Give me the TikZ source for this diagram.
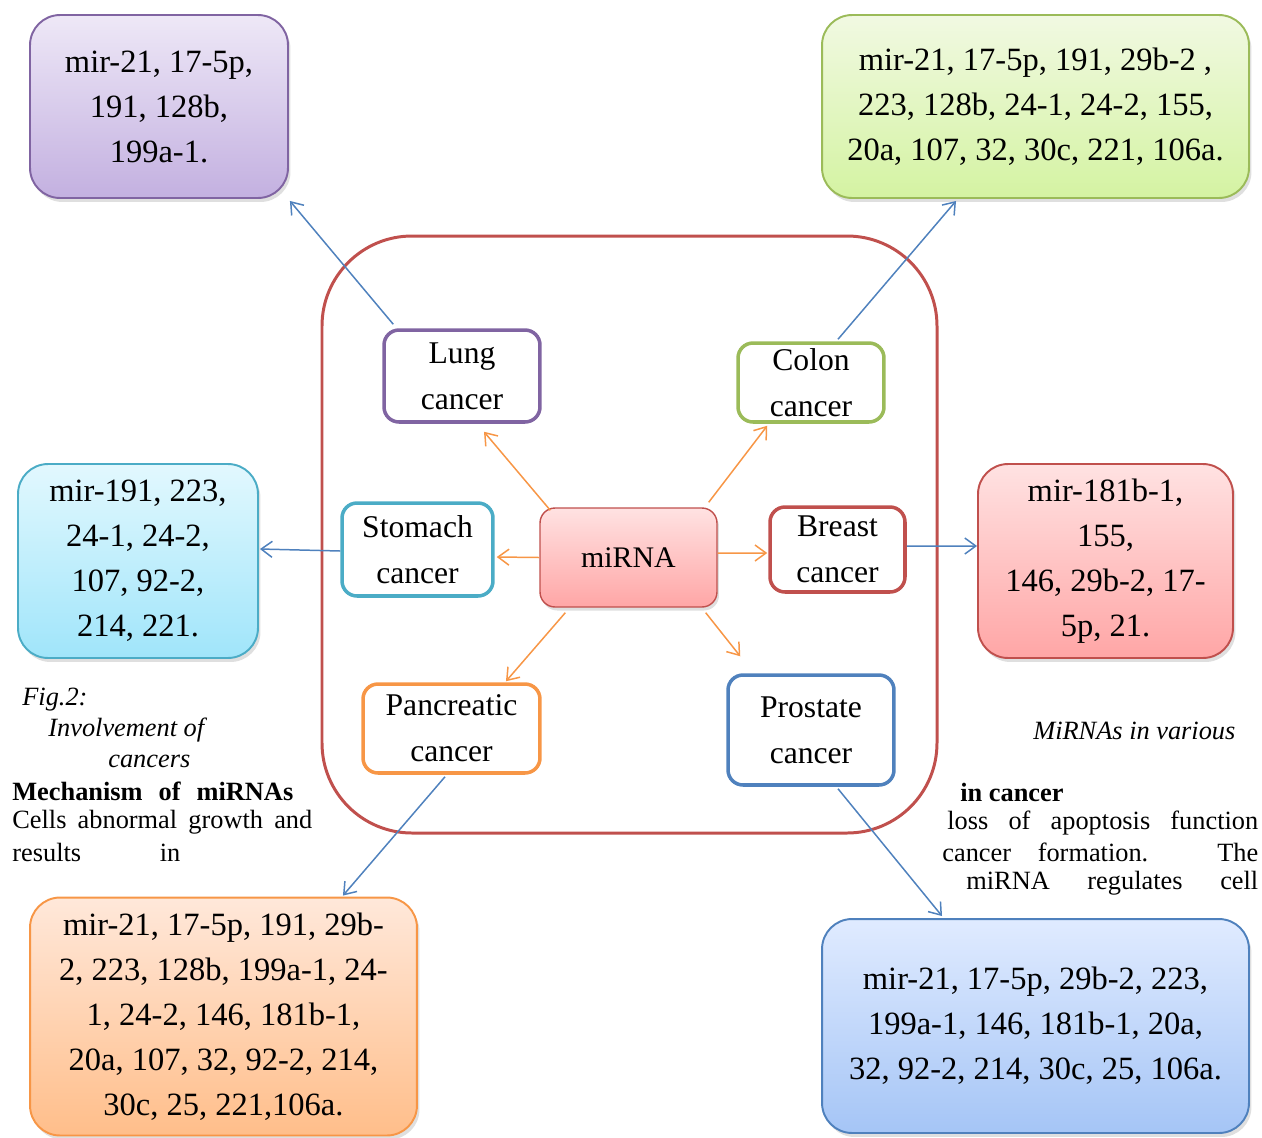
\documentclass[tikz,border=0pt]{standalone}
\usepackage{fontspec}
\setmainfont{Liberation Serif}
\usetikzlibrary{arrows.meta,shadows}

\definecolor{lungc}{HTML}{8064A2}
\definecolor{lungtop}{HTML}{EEE8F7}
\definecolor{lungbot}{HTML}{C3B0E0}
\definecolor{colonc}{HTML}{9BBB59}
\definecolor{colontop}{HTML}{F1F9E2}
\definecolor{colonbot}{HTML}{D4F3A2}
\definecolor{stomc}{HTML}{4BACC6}
\definecolor{stomtop}{HTML}{E2F8FE}
\definecolor{stombot}{HTML}{A0E5FA}
\definecolor{breastc}{HTML}{C0504D}
\definecolor{breasttop}{HTML}{FFE2E2}
\definecolor{breastbot}{HTML}{FFA6A6}
\definecolor{pancc}{HTML}{F79646}
\definecolor{panctop}{HTML}{FFE8DA}
\definecolor{pancbot}{HTML}{FFBE8A}
\definecolor{prostc}{HTML}{4F81BD}
\definecolor{prosttop}{HTML}{E0EBFF}
\definecolor{prostbot}{HTML}{A5C5F6}

\begin{document}
\begin{tikzpicture}[x=0.02cm, y=-0.02cm,
  mirbox/.style={draw, line width=1.1pt, rounded corners=0.6cm, inner sep=0pt, align=center,
    font=\fontsize{18.5}{25.6}\selectfont,
    drop shadow={opacity=0.25, shadow xshift=0.05cm, shadow yshift=-0.08cm}},
  cancerbox/.style={draw, fill=white, line width=2pt, rounded corners=0.3cm, inner sep=0pt,
    align=center, font=\fontsize{18}{26}\selectfont},
  mirnabox/.style={draw=breastc, line width=0.8pt, rounded corners=0.3cm, inner sep=0pt,
    top color=breasttop, bottom color=breastbot, font=\fontsize{17}{20}\selectfont,
    drop shadow={opacity=0.25, shadow xshift=0.04cm, shadow yshift=-0.07cm}},
  inarrow/.style={draw=pancc, line width=0.85pt, -{Straight Barb[length=0.22cm,width=0.32cm]}},
  outarrow/.style={draw=prostc, line width=0.85pt, -{Straight Barb[length=0.22cm,width=0.32cm]}},
  caption/.style={anchor=west, inner sep=0pt, font=\fontsize{15}{18}\selectfont},
  capit/.style={caption, font=\fontsize{15}{18}\selectfont\itshape},
  capbf/.style={caption, font=\fontsize{15}{18}\selectfont\bfseries}]
  \useasboundingbox (0,0) rectangle (1262,1137);

  % frame round the cancers
  \draw[draw=breastc, line width=1.7pt, rounded corners=1.8cm] (322,236) rectangle (937,833);

  % miRNA lists
  \node[mirbox, draw=lungc, top color=lungtop, bottom color=lungbot,
    minimum width=5.16cm, minimum height=3.66cm] (lungmir) at (159,106.5)
    {mir-21, 17-5p,\\ 191, 128b,\\ 199a-1.};
  \node[mirbox, draw=colonc, top color=colontop, bottom color=colonbot,
    minimum width=8.54cm, minimum height=3.66cm] (colonmir) at (1035.5,106.5)
    {mir-21, 17-5p, 191, 29b-2 ,\\ 223, 128b, 24-1, 24-2, 155,\\ 20a, 107, 32, 30c, 221, 106a.};
  \node[mirbox, draw=stomc, top color=stomtop, bottom color=stombot,
    minimum width=4.8cm, minimum height=3.88cm] (stomachmir) at (138,561)
    {mir-191, 223,\\ 24-1, 24-2,\\ 107, 92-2,\\ 214, 221.};
  \node[mirbox, draw=breastc, top color=breasttop, bottom color=breastbot,
    minimum width=5.1cm, minimum height=3.88cm] (breastmir) at (1105.5,561)
    {mir-181b-1,\\ 155,\\ 146, 29b-2, 17-\\ 5p, 21.};
  \node[mirbox, draw=pancc, top color=panctop, bottom color=pancbot,
    minimum width=7.74cm, minimum height=4.76cm] (pancmir) at (223.5,1016.5)
    {mir-21, 17-5p, 191, 29b-\\ 2, 223, 128b, 199a-1, 24-\\ 1, 24-2, 146, 181b-1,\\ 20a, 107, 32, 92-2, 214,\\ 30c, 25, 221,106a.};
  \node[mirbox, draw=prostc, top color=prosttop, bottom color=prostbot,
    minimum width=8.54cm, minimum height=4.28cm] (prostmir) at (1035.5,1026)
    {mir-21, 17-5p, 29b-2, 223,\\ 199a-1, 146, 181b-1, 20a,\\ 32, 92-2, 214, 30c, 25, 106a.};

  % cancers
  \node[cancerbox, draw=lungc, minimum width=3.12cm, minimum height=1.84cm] (lung) at (462,376) {Lung\\ cancer};
  \node[cancerbox, draw=colonc, minimum width=2.92cm, minimum height=1.58cm] (colon) at (811,382.5) {Colon\\ cancer};
  \node[cancerbox, draw=stomc, minimum width=3.02cm, minimum height=1.86cm] (stomach) at (417.5,549.5) {Stomach\\ cancer};
  \node[cancerbox, draw=breastc, minimum width=2.7cm, minimum height=1.7cm] (breast) at (837.5,549.5) {Breast\\ cancer};
  \node[cancerbox, draw=pancc, minimum width=3.54cm, minimum height=1.78cm] (panc) at (451.5,728.5) {Pancreatic\\ cancer};
  \node[cancerbox, draw=prostc, minimum width=3.32cm, minimum height=2.2cm] (prost) at (811,730) {Prostate\\ cancer};
  \node[mirnabox, minimum width=3.54cm, minimum height=1.98cm] (mirna) at (628.5,557.5) {miRNA};

  \draw[inarrow] ([xshift=0.22cm,yshift=-0.06cm]mirna.north west) -- ([xshift=0.44cm,yshift=-0.16cm]lung.south);
  \draw[inarrow] ([xshift=-0.18cm,yshift=0.1cm]mirna.north east) -- ([xshift=0.62cm,yshift=-0.04cm]colon.south west);
  \draw[inarrow] (mirna.west) -- ([xshift=0.04cm,yshift=-0.15cm]stomach.east);
  \draw[inarrow] ([yshift=0.09cm]mirna.east) -- ([xshift=-0.02cm,yshift=-0.07cm]breast.west);
  \draw[inarrow] ([xshift=0.52cm,yshift=-0.1cm]mirna.south west) -- ([xshift=1.09cm,yshift=0.02cm]panc.north);
  \draw[inarrow] ([xshift=-0.24cm,yshift=-0.1cm]mirna.south east) -- ([xshift=0.28cm,yshift=0.34cm]prost.north west);

  \draw[outarrow] ([xshift=0.22cm,yshift=0.08cm]lung.north west) -- ([xshift=0.02cm,yshift=-0.04cm]lungmir.south east);
  \draw[outarrow] ([xshift=0.54cm,yshift=0.04cm]colon.north) -- ([xshift=-1.59cm,yshift=-0.04cm]colonmir.south);
  \draw[outarrow] ([yshift=-0.03cm]stomach.west) -- ([xshift=0.02cm,yshift=0.24cm]stomachmir.east);
  \draw[outarrow] ([yshift=0.07cm]breast.east) -- ([yshift=0.3cm]breastmir.west);
  \draw[outarrow] ([xshift=-0.13cm,yshift=-0.04cm]panc.south) -- ([xshift=2.39cm,yshift=0.02cm]pancmir.north);
  \draw[outarrow] ([xshift=0.54cm,yshift=-0.04cm]prost.south) -- ([xshift=-1.87cm,yshift=0.04cm]prostmir.north);

  % text round the figure
  \node[capit] (fignum) at (22,700) {Fig.2:};
  \node[capit] (involve) at (48,730) {Involvement of};
  \node[capit] (cancers) at (108,761) {cancers};
  \node[capbf] (mechtitle) at (12,791) {\makebox[5.62cm][s]{Mechanism of miRNAs}};
  \node[caption] (mechline) at (12,822) {\makebox[6cm][s]{Cells abnormal growth and}};
  \node[caption] (mechend) at (12,852) {\makebox[3.36cm][s]{results in}};
  \node[capit] (various) at (1033,731) {MiRNAs in various};
  \node[capbf] (incancer) at (960,792) {in cancer};
  \node[caption] (lossline) at (947,823) {\makebox[6.22cm][s]{loss of apoptosis function}};
  \node[caption] (formline) at (942,852) {\makebox[6.32cm][s]{cancer formation. The}};
  \node[caption] (regline) at (966,883) {\makebox[5.84cm][s]{miRNA regulates cell}};
\end{tikzpicture}
\end{document}
